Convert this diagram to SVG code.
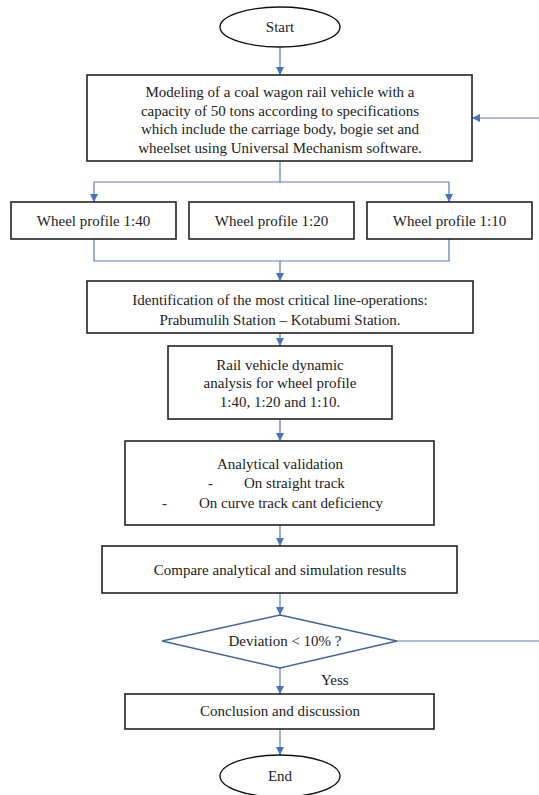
<svg xmlns="http://www.w3.org/2000/svg" width="539" height="795" viewBox="0 0 539 795">
<style>
.box{fill:#fff;stroke:#222;stroke-width:1.6}
.term{fill:#fff;stroke:#111;stroke-width:1.4}
.dec{fill:#fff;stroke:#3f65a3;stroke-width:1.6}
.t{font-family:"Liberation Serif","Times New Roman",serif;font-size:15px;fill:#222;text-anchor:middle}
.tl{font-family:"Liberation Serif","Times New Roman",serif;font-size:15px;fill:#222}
.c{fill:none;stroke:#5b7bb5;stroke-width:1.2}
</style>
<defs>
<marker id="ah" viewBox="0 0 10 10" refX="10" refY="5" markerWidth="8" markerHeight="8" markerUnits="userSpaceOnUse" orient="auto">
<path d="M0,0 L10,5 L0,10 z" fill="#4472c4"/>
</marker>
</defs>
<rect width="539" height="795" fill="#fff"/>
<g id="connectors">
<path class="c" d="M280,47 V75" marker-end="url(#ah)"/>
<path class="c" d="M539,118 H472" marker-end="url(#ah)"/>
<path class="c" d="M280,161 V182"/>
<path class="c" d="M94,182 H449"/>
<path class="c" d="M94,182 V202" marker-end="url(#ah)"/>
<path class="c" d="M449,182 V202" marker-end="url(#ah)"/>
<path class="c" d="M94,239 V261 H449 V239"/>
<path class="c" d="M280,261 V281" marker-end="url(#ah)"/>
<path class="c" d="M280,333 V346" marker-end="url(#ah)"/>
<path class="c" d="M280,419 V441" marker-end="url(#ah)"/>
<path class="c" d="M280,525 V546" marker-end="url(#ah)"/>
<path class="c" d="M280,593 V615" marker-end="url(#ah)"/>
<path class="c" d="M397,641 H539"/>
<path class="c" d="M280,668 V694" marker-end="url(#ah)"/>
<path class="c" d="M280,729 V755" marker-end="url(#ah)"/>
<text class="tl" x="321" y="685">Yess</text>
</g>
<g id="start">
<ellipse class="term" cx="280" cy="27" rx="60" ry="20"/>
<text class="t" x="280" y="32">Start</text>
</g>
<g id="modeling">
<rect class="box" x="87" y="75" width="385" height="86"/>
<text class="t" x="280" y="97">Modeling of a coal wagon rail vehicle with a</text>
<text class="t" x="280" y="115.5">capacity of 50 tons according to specifications</text>
<text class="t" x="280" y="134">which include the carriage body, bogie set and</text>
<text class="t" x="280" y="152.5">wheelset using Universal Mechanism software.</text>
</g>
<g id="wp40">
<rect class="box" x="11" y="202" width="165" height="37"/>
<text class="t" x="93.5" y="226">Wheel profile 1:40</text>
</g>
<g id="wp20">
<rect class="box" x="189" y="202" width="165" height="37"/>
<text class="t" x="271.5" y="226">Wheel profile 1:20</text>
</g>
<g id="wp10">
<rect class="box" x="367" y="202" width="165" height="37"/>
<text class="t" x="449.5" y="226">Wheel profile 1:10</text>
</g>
<g id="identification">
<rect class="box" x="87" y="281" width="386" height="52"/>
<text class="t" x="280" y="305">Identification of the most critical line-operations:</text>
<text class="t" x="280" y="325">Prabumulih Station – Kotabumi Station.</text>
</g>
<g id="dynamic">
<rect class="box" x="168" y="346" width="224" height="73"/>
<text class="t" x="280" y="369.5">Rail vehicle dynamic</text>
<text class="t" x="280" y="388">analysis for wheel profile</text>
<text class="t" x="280" y="406.5">1:40, 1:20 and 1:10.</text>
</g>
<g id="validation">
<rect class="box" x="125" y="441" width="309" height="84"/>
<text class="t" x="280" y="469">Analytical validation</text>
<text class="tl" x="208" y="488">-</text>
<text class="tl" x="244" y="488">On straight track</text>
<text class="tl" x="162" y="508">-</text>
<text class="tl" x="199" y="508">On curve track cant deficiency</text>
</g>
<g id="compare">
<rect class="box" x="102" y="546" width="355" height="47"/>
<text class="t" x="280" y="575">Compare analytical and simulation results</text>
</g>
<g id="decision">
<polygon class="dec" points="280,615 397,641 280,668 162,641"/>
<text class="t" x="285" y="646">Deviation &lt; 10% ?</text>
</g>
<g id="conclusion">
<rect class="box" x="125" y="694" width="309" height="35"/>
<text class="t" x="280" y="716">Conclusion and discussion</text>
</g>
<g id="end">
<ellipse class="term" cx="280" cy="776" rx="60" ry="21"/>
<text class="t" x="280" y="781">End</text>
</g>
</svg>
